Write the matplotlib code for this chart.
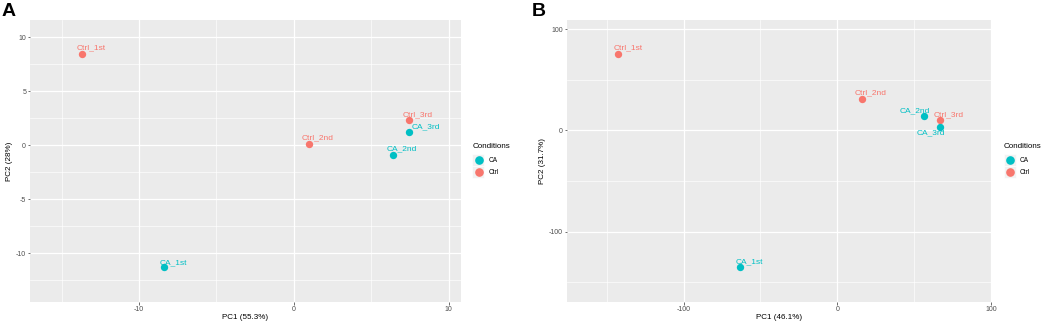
import numpy as np
import matplotlib
matplotlib.use("Agg")
import matplotlib.pyplot as plt
from matplotlib.patches import Rectangle

plt.rcParams['font.family'] = ['Liberation Sans', 'DejaVu Sans']
plt.rcParams['axes.unicode_minus'] = False

# Panel A data
a_labels = ["Ctrl_1st", "Ctrl_2nd", "Ctrl_3rd", "CA_1st", "CA_2nd", "CA_3rd"]
a_group = ["Ctrl", "Ctrl", "Ctrl", "CA", "CA", "CA"]
a_pc1 = [-13.67, 0.95, 7.43, -8.40, 6.38, 7.43]
a_pc2 = [8.47, 0.12, 2.32, -11.30, -0.90, 1.23]

# Panel B data
b_labels = ["Ctrl_1st", "Ctrl_2nd", "Ctrl_3rd", "CA_1st", "CA_2nd", "CA_3rd"]
b_group = ["Ctrl", "Ctrl", "Ctrl", "CA", "CA", "CA"]
b_pc1 = [-142.5, 15.8, 66.9, -63.4, 56.5, 66.8]
b_pc2 = [75.3, 31.2, 9.9, -135.2, 13.8, 3.3]

colours = {"CA": "#00BFC4", "Ctrl": "#F8766D"}
W, H = 1045, 322

# label offsets in pixels (label centre relative to point)
a_offsets = [(9, 6), (9, 6), (9, 6), (10, 5), (9, 6), (17, 5)]
b_offsets = [(10, 6), (9, 6), (9, 6), (10, 5), (-9, 6), (-9, -6)]


def draw_panel(ax, x, y, labels, groups, offsets, xlim, ylim, xmaj, xmin, ymaj, ymin, xlab, ylab):
    ax.set_facecolor("#EBEBEB")
    ax.set_xlim(xlim)
    ax.set_ylim(ylim)
    ax.set_xticks(xmaj)
    ax.set_xticks(xmin, minor=True)
    ax.set_yticks(ymaj)
    ax.set_yticks(ymin, minor=True)
    ax.grid(which="major", color="white", linewidth=0.9)
    ax.grid(which="minor", color="white", linewidth=0.45)
    ax.set_axisbelow(True)
    for s in ax.spines.values():
        s.set_visible(False)
    ax.tick_params(which="major", length=1.8, width=0.5, color="#333333",
                   labelsize=5, labelcolor="#4D4D4D", pad=1)
    ax.tick_params(which="minor", length=0)
    for xi, yi, lab, g, off in zip(x, y, labels, groups, offsets):
        ax.scatter(xi, yi, s=28, color=colours[g], zorder=3, linewidths=0)
        ax.annotate(lab, (xi, yi), xytext=off, textcoords="offset pixels",
                    ha="center", va="center", fontsize=6, color=colours[g], zorder=4)
    ax.set_xlabel(xlab, fontsize=5.8, labelpad=1)
    ax.set_ylabel(ylab, fontsize=5.8, labelpad=2)


def draw_legend(fig, x0, ytitle):
    fig.text(x0 / W, 1 - ytitle / H, "Conditions", fontsize=5.8, va="center", ha="left")
    for i, g in enumerate(["CA", "Ctrl"]):
        yc = ytitle + 13 + i * 12.3
        fig.patches.append(Rectangle(((x0) / W, 1 - (yc + 6) / H), 12 / W, 12 / H,
                                     transform=fig.transFigure, facecolor="#F2F2F2",
                                     edgecolor="white", linewidth=0.5))
        fig.add_artist(plt.Line2D([(x0 + 6) / W], [1 - yc / H], marker="o", markersize=5.2,
                                  color=colours[g], linestyle="", transform=fig.transFigure))
        fig.text((x0 + 16) / W, 1 - yc / H, g, fontsize=4.7, va="center", ha="left")


def main():
    fig = plt.figure(figsize=(W / 100, H / 100), dpi=100)

    ax1 = fig.add_axes([30 / W, 20 / H, 431 / W, 282 / H])
    draw_panel(ax1, a_pc1, a_pc2, a_labels, a_group, a_offsets,
               (-17.05, 10.8), (-14.5, 11.6),
               [-10, 0, 10], [-15, -5, 5],
               [-10, -5, 0, 5, 10], [-12.5, -7.5, -2.5, 2.5, 7.5],
               "PC1 (55.3%)", "PC2 (28%)")

    ax2 = fig.add_axes([566.7 / W, 20 / H, 424.3 / W, 282 / H])
    draw_panel(ax2, b_pc1, b_pc2, b_labels, b_group, b_offsets,
               (-176, 99.5), (-169.5, 108.9),
               [-100, 0, 100], [-150, -50, 50],
               [-100, 0, 100], [-150, -50, 50],
               "PC1 (46.1%)", "PC2 (31.7%)")

    draw_legend(fig, 472.5, 147)
    draw_legend(fig, 1004, 147)

    fig.text(2 / W, 1 - 11 / H, "A", fontsize=14, fontweight="bold", va="center", ha="left")
    fig.text(532 / W, 1 - 11 / H, "B", fontsize=14, fontweight="bold", va="center", ha="left")

    fig.savefig("out.png", dpi=100)


if __name__ == "__main__":
    main()
